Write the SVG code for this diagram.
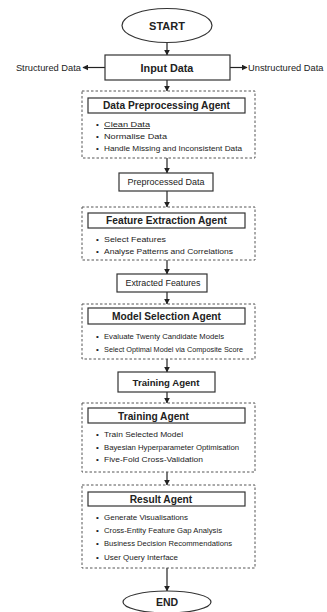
<svg xmlns="http://www.w3.org/2000/svg" width="327" height="612" viewBox="0 0 327 612">
<defs>
<marker id="ah" viewBox="0 0 10 10" refX="9" refY="5" markerWidth="6" markerHeight="6" markerUnits="userSpaceOnUse" orient="auto">
<path d="M0,0 L10,5 L0,10 z" fill="#222"/>
</marker>
<style>
.t{font-family:"Liberation Sans",Arial,sans-serif;fill:#222}
.b{font-weight:bold}
.box{fill:#fff;stroke:#333;stroke-width:1.2}
.dash{fill:#fff;stroke:#555;stroke-width:1;stroke-dasharray:2.5,2}
.c{stroke:#222;stroke-width:1.2;fill:none;marker-end:url(#ah)}
.h{font-size:10.2px;text-anchor:middle}
.li{font-size:8.1px}
.bu{font-size:8.1px}
</style>
</defs>
<rect width="327" height="612" fill="#fff"/>
<g id="connectors">
<line class="c" x1="167" y1="43" x2="167" y2="55"/>
<line class="c" x1="105" y1="67.5" x2="83" y2="67.5"/>
<line class="c" x1="230" y1="67.5" x2="247" y2="67.5"/>
<line class="c" x1="167" y1="80" x2="167" y2="91"/>
<line class="c" x1="167" y1="158" x2="167" y2="173"/>
<line class="c" x1="167" y1="191" x2="167" y2="207"/>
<line class="c" x1="167" y1="260" x2="167" y2="274"/>
<line class="c" x1="167" y1="292" x2="167" y2="304"/>
<line class="c" x1="167" y1="359" x2="167" y2="372"/>
<line class="c" x1="167" y1="392" x2="167" y2="403"/>
<line class="c" x1="167" y1="472" x2="167" y2="485"/>
<line class="c" x1="167" y1="568" x2="167" y2="591"/>
</g>
<g id="start">
<ellipse cx="167" cy="25.5" rx="45" ry="17" class="box"/>
<text class="t b" x="167" y="29.5" font-size="11" text-anchor="middle">START</text>
</g>
<g id="input">
<rect x="105" y="55" width="125" height="25" class="box"/>
<text class="t b" x="167" y="71.5" font-size="10.8" text-anchor="middle">Input Data</text>
</g>
<g id="structured">
<text class="t" x="81" y="70.8" font-size="9.3" text-anchor="end">Structured Data</text>
</g>
<g id="unstructured">
<text class="t" x="248" y="70.8" font-size="9.3">Unstructured Data</text>
</g>
<g id="preprocessing">
<rect x="82" y="91" width="173" height="67" class="dash"/>
<rect x="88" y="98" width="157" height="15" class="box"/>
<text class="t b h" x="166.5" y="109.3">Data Preprocessing Agent</text>
<text class="t bu" x="96" y="127">•</text><text class="t li" x="104" y="127" text-decoration="underline" textLength="46" lengthAdjust="spacingAndGlyphs">Clean Data</text>
<text class="t bu" x="96" y="139">•</text><text class="t li" x="104" y="139" textLength="63" lengthAdjust="spacingAndGlyphs">Normalise Data</text>
<text class="t bu" x="96" y="151">•</text><text class="t li" x="104" y="151" textLength="138" lengthAdjust="spacingAndGlyphs">Handle Missing and Inconsistent Data</text>
</g>
<g id="preprocessed">
<rect x="119" y="173" width="94" height="18" class="box"/>
<text class="t" x="166" y="185.3" font-size="9" text-anchor="middle">Preprocessed Data</text>
</g>
<g id="feature">
<rect x="82" y="207" width="173" height="53" class="dash"/>
<rect x="88" y="213" width="157" height="15" class="box"/>
<text class="t b h" x="166.5" y="224.3">Feature Extraction Agent</text>
<text class="t bu" x="96" y="242">•</text><text class="t li" x="104" y="242" textLength="62" lengthAdjust="spacingAndGlyphs">Select Features</text>
<text class="t bu" x="96" y="254">•</text><text class="t li" x="104" y="254" textLength="129" lengthAdjust="spacingAndGlyphs">Analyse Patterns and Correlations</text>
</g>
<g id="extracted">
<rect x="117" y="274" width="90" height="18" class="box"/>
<text class="t" x="163" y="286.3" font-size="8.9" text-anchor="middle">Extracted Features</text>
</g>
<g id="modelsel">
<rect x="82" y="304" width="173" height="55" class="dash"/>
<rect x="88" y="308" width="157" height="16" class="box"/>
<text class="t b h" x="166.5" y="319.8">Model Selection Agent</text>
<text class="t bu" x="96" y="339">•</text><text class="t li" x="104" y="339" textLength="120" lengthAdjust="spacingAndGlyphs">Evaluate Twenty Candidate Models</text>
<text class="t bu" x="96" y="352">•</text><text class="t li" x="104" y="352" textLength="139" lengthAdjust="spacingAndGlyphs">Select Optimal Model via Composite Score</text>
</g>
<g id="training1">
<rect x="118" y="372" width="97" height="20" class="box"/>
<text class="t b h" x="166" y="385.5" style="font-size:9.6px">Training Agent</text>
</g>
<g id="training2">
<rect x="82" y="403" width="173" height="69" class="dash"/>
<rect x="88" y="408" width="157" height="15" class="box"/>
<text class="t b" x="153.5" y="419.5" font-size="10.2" text-anchor="middle">Training Agent</text>
<text class="t bu" x="96" y="437">•</text><text class="t li" x="104" y="437" textLength="79" lengthAdjust="spacingAndGlyphs">Train Selected Model</text>
<text class="t bu" x="96" y="450">•</text><text class="t li" x="104" y="450" textLength="135" lengthAdjust="spacingAndGlyphs">Bayesian Hyperparameter Optimisation</text>
<text class="t bu" x="96" y="462">•</text><text class="t li" x="104" y="462" textLength="99" lengthAdjust="spacingAndGlyphs">Five-Fold Cross-Validation</text>
</g>
<g id="result">
<rect x="82" y="485" width="173" height="83" class="dash"/>
<rect x="88" y="492" width="157" height="14" class="box"/>
<text class="t b h" x="161" y="502.8">Result Agent</text>
<text class="t bu" x="96" y="520">•</text><text class="t li" x="104" y="520" textLength="84" lengthAdjust="spacingAndGlyphs">Generate Visualisations</text>
<text class="t bu" x="96" y="533">•</text><text class="t li" x="104" y="533" textLength="118" lengthAdjust="spacingAndGlyphs">Cross-Entity Feature Gap Analysis</text>
<text class="t bu" x="96" y="546">•</text><text class="t li" x="104" y="546" textLength="128" lengthAdjust="spacingAndGlyphs">Business Decision Recommendations</text>
<text class="t bu" x="96" y="560">•</text><text class="t li" x="104" y="560" textLength="74" lengthAdjust="spacingAndGlyphs">User Query Interface</text>
</g>
<g id="end">
<ellipse cx="167" cy="602" rx="44" ry="11" class="box"/>
<text class="t b" x="167" y="605.5" font-size="10.5" text-anchor="middle">END</text>
</g>
</svg>
